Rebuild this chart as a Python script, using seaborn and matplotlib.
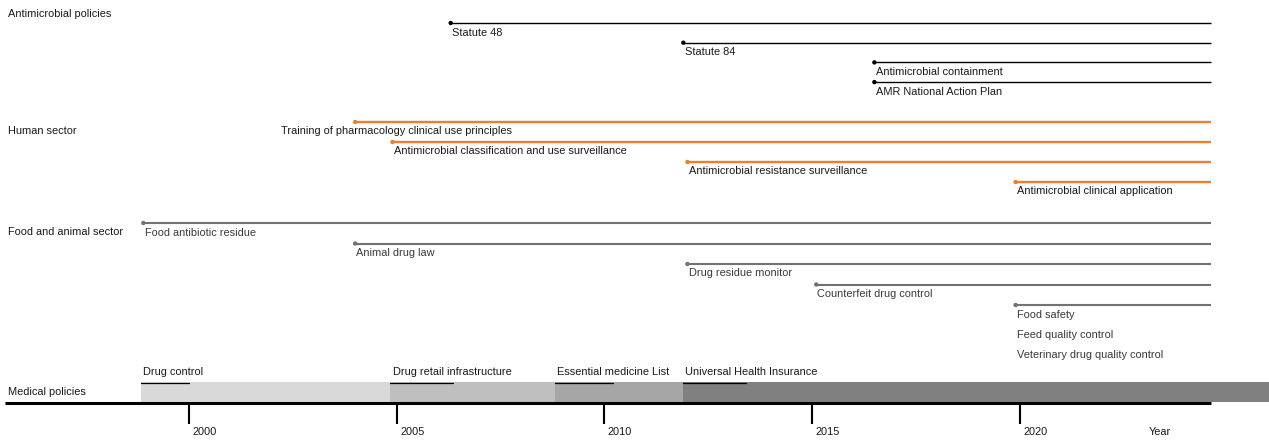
import matplotlib
matplotlib.use("Agg")
import matplotlib.pyplot as plt
import seaborn as sns
import pandas as pd

# ── Data ──────────────────────────────────────────────────────────────────────
ANTI_EVENTS = ["Statute 48", "Statute 84", "Antimicrobial containment",
               "AMR National Action Plan"]
ANTI_START = [2006.3, 2011.9, 2016.5, 2016.5]

HUMAN_EVENTS = ["Training of pharmacology clinical use principles",
                "Antimicrobial classification and use surveillance",
                "Antimicrobial resistance surveillance",
                "Antimicrobial clinical application"]
HUMAN_START = [2004.0, 2004.9, 2012.0, 2019.9]

FOOD_EVENTS = ["Food antibiotic residue", "Animal drug law", "Drug residue monitor",
               "Counterfeit drug control", "Food safety"]
FOOD_START = [1998.9, 2004.0, 2012.0, 2015.1, 2019.9]
FOOD_EXTRA = ["Feed quality control", "Veterinary drug quality control"]

END_YEAR = 2024.6

MED_POLICIES = ["Drug control", "Drug retail infrastructure",
                "Essential medicine List", "Universal Health Insurance"]
MED_START = [1998.85, 2004.85, 2008.8, 2011.9]
MED_END = [2004.85, 2008.8, 2011.9, 2026.0]

YEARS = [2000, 2005, 2010, 2015, 2020]
SECTIONS = ["Antimicrobial policies", "Human sector", "Food and animal sector",
            "Medical policies"]

# ── Style ─────────────────────────────────────────────────────────────────────
BLACK, ORANGE, GREY = "#000000", "#ED7D31", "#767171"
MED_COLORS = ["#D9D9D9", "#BFBFBF", "#A6A6A6", "#808080"]
UNDERLINE = [1.15, 1.5, 1.4, 1.5]   # short rule under each medical label (yrs)
TXT = "#1a1a1a"

sns.set_theme(style="white")
plt.rcParams["font.family"] = ["Liberation Sans", "DejaVu Sans"]
FS = 7.9

fig = plt.figure(figsize=(12.69, 4.41), dpi=100)
ax = fig.add_axes([0, 0, 1, 1])
ax.set_xlim(1995.45, 2026.0)
ax.set_ylim(441, 0)          # y in pixel rows, top to bottom
ax.axis("off")

# row layout (pixel rows)
groups = [
    (ANTI_EVENTS, ANTI_START, BLACK, 23, 19.7, 1.0, TXT),
    (HUMAN_EVENTS, HUMAN_START, ORANGE, 122, 20.0, 1.7, TXT),
    (FOOD_EVENTS, FOOD_START, GREY, 223, 20.5, 1.5, "#3a3a3a"),
]
LABEL_SHIFT = {"Training of pharmacology clinical use principles": -1.78}

for events, starts, color, y0, dy, lw, tcol in groups:
    df = pd.DataFrame({"event": events, "start": starts,
                       "y": [y0 + dy * i for i in range(len(events))]})
    ax.hlines(df["y"], df["start"], END_YEAR, color=color, lw=lw)
    sns.scatterplot(data=df, x="start", y="y", color=color, s=10,
                    edgecolor="none", ax=ax, legend=False, zorder=3)
    for _, r in df.iterrows():
        x = r["start"] + LABEL_SHIFT.get(r["event"], 0.03)
        ax.text(x, r["y"] + 9.5, r["event"], fontsize=FS, color=tcol,
                ha="left", va="center")

# extra labels under "Food safety"
fs_y = 223 + 20.5 * 4
for j, lab in enumerate(FOOD_EXTRA):
    ax.text(FOOD_START[-1] + 0.03, fs_y + 9.5 + 20 * (j + 1), lab,
            fontsize=FS, color="#3a3a3a", ha="left", va="center")

# section labels
for lab, y in zip(SECTIONS, [14, 131, 232, 392]):
    ax.text(1995.65, y, lab, fontsize=FS, color=TXT, ha="left", va="center")

# medical policy bars
for lab, s, e, c, ul in zip(MED_POLICIES, MED_START, MED_END, MED_COLORS, UNDERLINE):
    ax.barh(392, e - s, left=s, height=20, color=c, edgecolor="none", zorder=1)
    ax.plot([s, s + ul], [382.5, 382.5], color=BLACK, lw=0.9, zorder=2)
    ax.text(s + 0.05, 372, lab, fontsize=FS, color=TXT, ha="left", va="center")

# timeline axis
ax.plot([1995.57, END_YEAR], [402.5, 402.5], color=BLACK, lw=2.2, zorder=4,
        solid_capstyle="butt")
ax.vlines(YEARS, 404, 424, color=BLACK, lw=1.5)
for yr in YEARS:
    ax.text(yr + 0.08, 432, str(yr), fontsize=FS, color=TXT, ha="left", va="center")
ax.text(2023.1, 432, "Year", fontsize=FS, color=TXT, ha="left", va="center")

fig.savefig("out.png", dpi=100, facecolor="white")
